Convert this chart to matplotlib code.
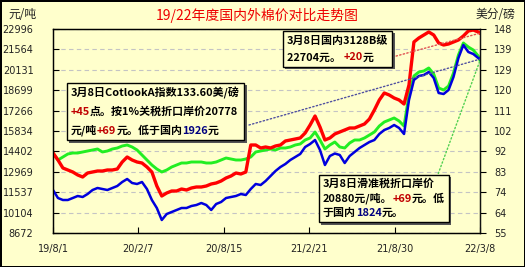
import pandas as pd
import matplotlib
matplotlib.use("Agg")
import matplotlib.pyplot as plt
import matplotlib.patheffects as pe
from matplotlib.offsetbox import TextArea, HPacker, VPacker, AnnotationBbox

plt.rcParams['font.family'] = ['Noto Sans CJK SC', 'DejaVu Sans']

BG = '#FFFFCC'

# 取样日期：每 11 天一个点，最后一点是 22/3/8
dates = list(pd.date_range('2019-08-01', periods=87, freq='11D')) + [pd.Timestamp('2022-03-08')]

# 国内 3128B 级（元/吨）
domestic = [
    14289, 13798, 13236, 13096, 12955, 12745, 12604, 12885, 12955, 13025,
    13025, 13096, 13096, 13166, 13657, 14008, 13798, 13657, 13587, 13306,
    12955, 11972, 11270, 11481, 11621, 11621, 11761, 11691, 11832, 11902,
    11902, 11972, 12113, 12183, 12323, 12534, 12674, 12885, 12815, 12955,
    14851, 14851, 14640, 14711, 14640, 14781, 14851, 15132, 15202, 15272,
    15343, 15694, 16255, 16887, 16115, 15202, 15343, 15624, 15764, 15904,
    16045, 16045, 16185, 16326, 16677, 17309, 18011, 18503, 18362, 18151,
    18011, 17730, 19064, 22084, 22365, 22575, 22786, 22575, 22014, 21873,
    21943, 22084, 22224, 22505, 22856, 22926, 22786, 22704,
]
# Cotlook A 按 1% 关税折口岸价（元/吨）
cotlook_1pct = [
    14289, 13798, 14008, 14219, 14289, 14289, 14360, 14430, 14500, 14570,
    14360, 14430, 14570, 14640, 14781, 14851, 14711, 14500, 14149, 13798,
    13447, 13166, 12955, 13096, 13306, 13447, 13587, 13587, 13657, 13657,
    13657, 13587, 13587, 13657, 13798, 13938, 13868, 13798, 13798, 13868,
    14008, 14360, 14430, 14500, 14570, 14500, 14640, 14640, 14711, 14851,
    14921, 15202, 15343, 15764, 15202, 14570, 14851, 15062, 14711, 14640,
    14992, 15202, 15202, 15343, 15553, 15764, 16185, 16466, 16607, 16747,
    16536, 16185, 18362, 19696, 19977, 20047, 20258, 19837, 18854, 18713,
    18994, 19907, 21171, 22014, 21733, 21522, 21101, 20778,
]
# 滑准税折口岸价（元/吨）
sliding = [
    11691, 11129, 10989, 10989, 11129, 11270, 11200, 11410, 11691, 11832,
    11761, 11691, 11832, 11972, 12253, 12464, 12183, 12113, 12253, 11761,
    10989, 10427, 9585, 10006, 10146, 10287, 10427, 10427, 10568, 10638,
    10778, 10638, 10287, 10708, 10849, 11129, 11200, 11270, 11410, 11340,
    11761, 12113, 12042, 12323, 12674, 13025, 13306, 13517, 13798, 14008,
    14219, 14711, 14921, 15202, 14500, 13447, 14079, 14254, 14149, 13587,
    14079, 14360, 14640, 14851, 15062, 15202, 15624, 15904, 16045, 16255,
    16045, 15624, 18011, 19415, 19696, 19766, 19977, 19556, 18503, 18432,
    18713, 19626, 20960, 21873, 21382, 21241, 20960, 20880,
]

left_ticks = [8672, 10104, 11537, 12969, 14402, 15834, 17266, 18699, 20131, 21564, 22996]
right_ticks = [55, 64, 74, 83, 92, 102, 111, 120, 129, 139, 148]
x_ticks = ['2019-08-01', '2020-02-07', '2020-08-15', '2021-02-21', '2021-08-30', '2022-03-08']
x_labels = ['19/8/1', '20/2/7', '20/8/15', '21/2/21', '21/8/30', '22/3/8']

fig = plt.figure(figsize=(5.25, 2.67), dpi=100, facecolor=BG, edgecolor='black', linewidth=2)
ax = fig.add_axes([53/525, 1 - 233/267, 427/525, 204/267])
ax.set_facecolor(BG)

ax.plot(dates, cotlook_1pct, color='#22EE22', lw=2.1, zorder=2)
ax.plot(dates, sliding, color='#0000DD', lw=1.8, zorder=3)
ax.plot(dates, domestic, color='#FF0000', lw=2.4, zorder=4)

ax.set_xlim(pd.Timestamp(x_ticks[0]), pd.Timestamp(x_ticks[-1]))
ax.set_ylim(left_ticks[0], left_ticks[-1])
ax.set_yticks(left_ticks)
ax.set_yticklabels([str(v) for v in left_ticks])
ax.set_xticks([pd.Timestamp(d) for d in x_ticks])
ax.set_xticklabels(x_labels)
ax.yaxis.grid(True, color='#C4C4C4', ls=(0, (4, 3)), lw=0.8)
ax.set_axisbelow(True)
ax.tick_params(axis='y', direction='in', length=4, pad=14, labelsize=7, labelcolor='#222222')
ax.tick_params(axis='x', direction='in', length=4, pad=8, labelsize=7, labelcolor='#222222')
for lab in ax.get_xticklabels() + ax.get_yticklabels():
    lab.set_family('DejaVu Sans')
for s in ax.spines.values():
    s.set_color('#111111')
    s.set_linewidth(1.0)

ax2 = ax.twinx()
ax2.set_ylim(55, 148)
ax2.set_yticks([55 + i * 9.3 for i in range(11)])
ax2.set_yticklabels([str(v) for v in right_ticks])
ax2.tick_params(axis='y', direction='out', length=4, pad=6, labelsize=7, labelcolor='#222222')
for lab in ax2.get_yticklabels():
    lab.set_family('DejaVu Sans')
ax2.spines['right'].set_color('#111111')

fig.text(0.49, 1 - 15/267, '19/22年度国内外棉价对比走势图', color='#EE0000',
         fontsize=10, fontweight='medium', ha='center', va='center')
fig.text(8/525, 1 - 15/267, '元/吨', fontsize=8.5, ha='left', va='center', color='#222222')
fig.text(515/525, 1 - 15/267, '美分/磅', fontsize=8.5, ha='right', va='center', color='#222222')

RED = '#C00000'
NAVY = '#000080'
K = 'black'


def note_box(lines, left, top, pad=0.4, sep=4.5):
    # left/top: 边框左上角的大致像素位置；内容往里缩一点
    inset = pad * 10 * 100 / 72 - 2.5
    rows = []
    for line in lines:
        parts = [TextArea(t, textprops=dict(color=c, fontsize=7.9, fontweight='bold'))
                 for t, c in line]
        rows.append(HPacker(children=parts, pad=0, sep=0, align='baseline'))
    box = VPacker(children=rows, pad=0, sep=sep, align='left')
    xy = ((left + inset - 53) / 427, (233 - top - inset) / 204)
    ab = AnnotationBbox(box, xy, xycoords='axes fraction', box_alignment=(0, 1),
                        frameon=True, pad=pad,
                        bboxprops=dict(boxstyle='square', fc=BG, ec='black', lw=1.0),
                        zorder=6)
    ab.patch.set_path_effects([pe.SimplePatchShadow(offset=(2, -2), shadow_rgbFace='#555555', alpha=1),
                               pe.Normal()])
    ax.add_artist(ab)


note_box([[('3月8日CotlookA指数133.60美/磅', K)],
          [('+45', RED), ('点。按1%关税折口岸价20778', K)],
          [('元/吨', K), ('+69', RED), ('元。低于国内', K), ('1926', NAVY), ('元', K)]],
         67, 83, pad=0.45, sep=5.5)
note_box([[('3月8日国内3128B级', K)],
          [('22704元。 ', K), ('+20', RED), ('元', K)]],
         283, 31, pad=0.45, sep=5)
note_box([[('3月8日滑准税折口岸价', K)],
          [('20880元/吨。', K), ('+69', RED), ('元。低', K)],
          [('于国内', K), ('1824', NAVY), ('元。', K)]],
         321, 177, pad=0.3, sep=2.5)

# 说明框到曲线终点的虚线
ax.annotate('', xy=(dates[-1], domestic[-1]), xytext=((389 - 53) / 427, (233 - 58) / 204),
            textcoords='axes fraction',
            arrowprops=dict(arrowstyle='-', ls=':', color='#E05050', lw=1.0, shrinkA=0, shrinkB=0),
            zorder=5)
ax.annotate('', xy=(dates[-1], sliding[-1]), xytext=((249 - 53) / 427, (233 - 125) / 204),
            textcoords='axes fraction',
            arrowprops=dict(arrowstyle='-', ls=':', color='#5050A0', lw=1.0, shrinkA=0, shrinkB=0),
            zorder=5)
ax.annotate('', xy=(dates[-1], cotlook_1pct[-1]), xytext=((437 - 53) / 427, (233 - 177) / 204),
            textcoords='axes fraction',
            arrowprops=dict(arrowstyle='-', ls=':', color='#50D050', lw=1.0, shrinkA=0, shrinkB=0),
            zorder=5)

fig.savefig('out.png', dpi=100, facecolor=BG, edgecolor='black')
